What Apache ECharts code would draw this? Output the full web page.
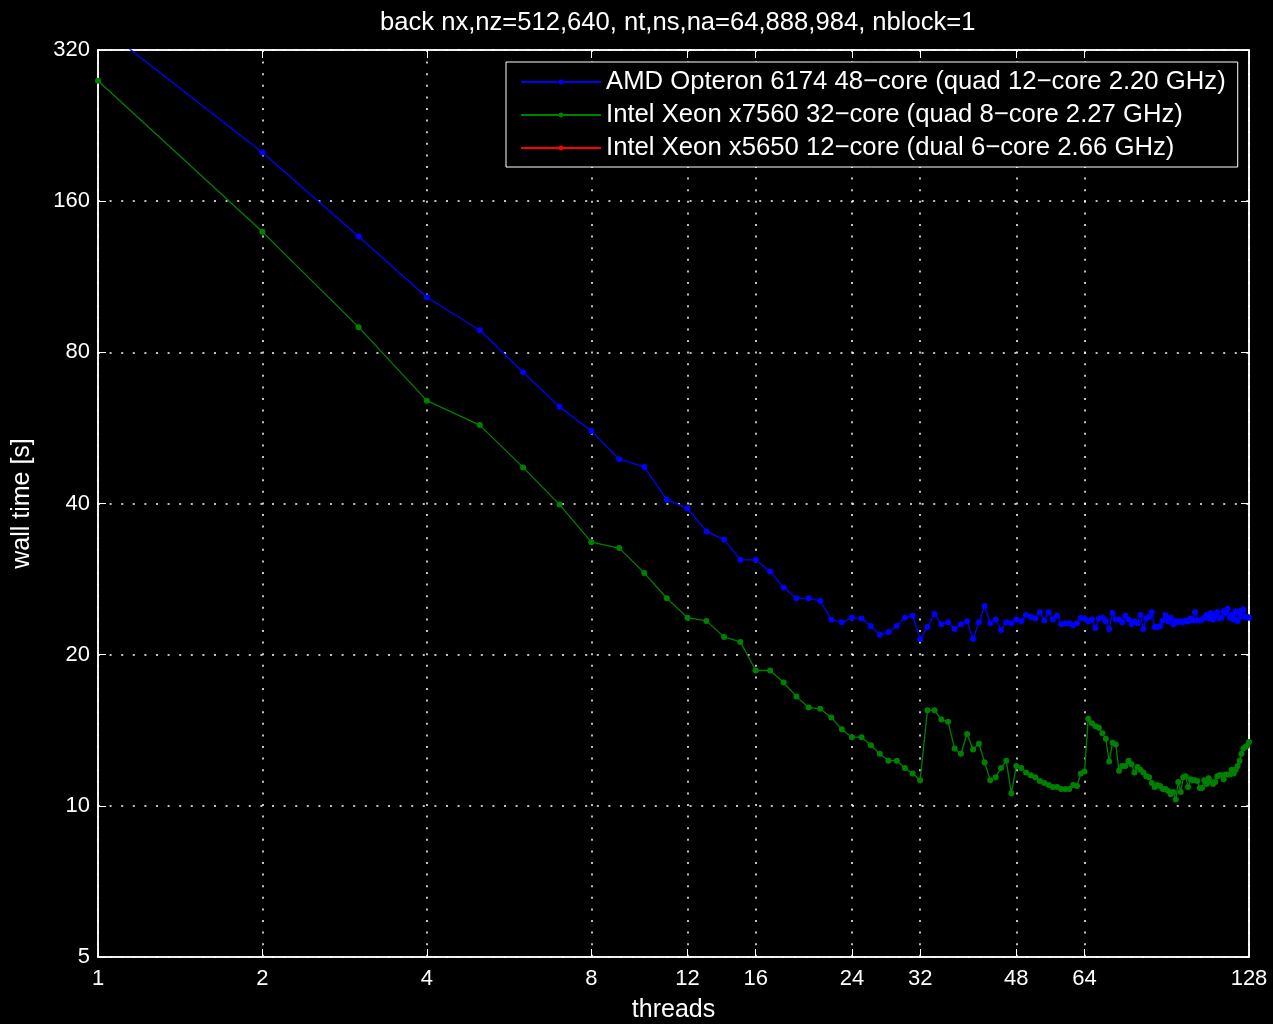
<!DOCTYPE html>
<html>
<head>
<meta charset="utf-8">
<title>back wall time</title>
<script src="https://cdn.jsdelivr.net/npm/echarts@6/dist/echarts.min.js"></script>
<style>
  html, body { margin: 0; padding: 0; background: #000; }
  #chart { width: 1273px; height: 1024px; }
</style>
</head>
<body>
<div id="chart"></div>
<script>
// thread counts 1..128
var threads = [];
for (var t = 1; t <= 128; t++) threads.push(t);

var xTicks = [1, 2, 4, 8, 12, 16, 24, 32, 48, 64, 128];
var yTicks = [5, 10, 20, 40, 80, 160, 320];

var seriesNames = [
    'AMD Opteron 6174 48\u2212core (quad 12\u2212core 2.20 GHz)',
    'Intel Xeon x7560 32\u2212core (quad 8\u2212core 2.27 GHz)',
    'Intel Xeon x5650 12\u2212core (dual 6\u2212core 2.66 GHz)'
];

// wall time [s], one value per thread count
var amdTimes = [
    360, 200, 136, 103, 88.5, 73.0, 62.3, 55.8, 49.0, 47.3,
    40.7, 39.1, 35.2, 33.9, 30.9, 30.9, 29.3, 27.2, 25.9, 25.9,
    25.6, 23.5, 23.2, 23.7, 23.6, 22.8, 21.9, 22.2, 22.8, 23.7,
    23.9, 21.5, 22.7, 24.1, 23.0, 23.2, 22.5, 23.0, 23.3, 21.5,
    23.2, 25.0, 23.1, 23.5, 22.4, 23.2, 23.1, 23.5, 23.3, 24.0,
    23.8, 23.6, 24.3, 23.4, 24.3, 23.5, 23.9, 23.0, 23.1, 23.1,
    22.9, 23.1, 23.7, 23.6, 23.3, 23.5, 22.6, 23.6, 23.7, 23.3,
    22.5, 24.2, 23.5, 23.5, 23.2, 23.9, 23.5, 23.0, 23.3, 23.1,
    24.0, 22.5, 23.6, 23.8, 24.3, 22.7, 22.7, 22.8, 23.4, 24.0,
    23.3, 23.7, 23.0, 23.3, 23.2, 23.3, 23.2, 23.4, 23.3, 23.6,
    23.4, 24.3, 23.4, 23.4, 23.5, 23.7, 24.0, 23.6, 24.2, 23.5,
    24.0, 24.3, 23.6, 23.7, 24.4, 24.2, 24.7, 23.7, 24.0, 23.5,
    24.4, 23.3, 24.4, 23.8, 24.6, 23.8, 23.8, 23.7
];

var x7560Times = [
    278, 139, 89.8, 64.1, 57.3, 47.2, 39.8, 33.5, 32.6, 29.1,
    25.9, 23.7, 23.35, 21.7, 21.2, 18.6, 18.6, 17.6, 16.5, 15.7,
    15.6, 15.0, 14.2, 13.7, 13.7, 13.2, 12.7, 12.3, 12.3, 11.9,
    11.6, 11.25, 15.5, 15.5, 14.85, 14.7, 13.0, 12.7, 13.9, 12.95,
    13.3, 12.2, 11.25, 11.4, 11.9, 12.3, 10.6, 12.0, 11.9, 11.65,
    11.5, 11.4, 11.2, 11.1, 11.0, 10.9, 10.9, 10.8, 10.8, 10.8,
    11.0, 10.95, 11.6, 11.7, 14.9, 14.6, 14.4, 14.3, 13.95, 13.6,
    12.25, 13.35, 13.25, 11.75, 12.0, 12.0, 12.3, 12.1, 11.65, 11.95,
    11.8, 11.65, 11.45, 11.4, 11.1, 10.9, 11.0, 10.95, 10.8, 10.8,
    10.7, 10.55, 10.65, 10.3, 11.15, 10.65, 11.4, 11.45, 10.9, 11.3,
    11.25, 11.25, 11.2, 10.85, 10.85, 11.25, 11.05, 11.35, 11.15, 11.05,
    11.15, 11.45, 11.5, 11.5, 11.3, 11.55, 11.55, 11.55, 11.8, 11.6,
    11.8, 12.0, 12.3, 12.7, 13.0, 13.1, 13.15, 13.4
];

// x5650 run: nothing plotted in the figure
var x5650Times = [];

function pairs(xs, ys) {
    var res = [];
    for (var i = 0; i < ys.length; i++) res.push([xs[i], ys[i]]);
    return res;
}

var font = 'Liberation Sans, Arial, sans-serif';
var myChart = echarts.init(document.getElementById('chart'), null, { renderer: 'canvas' });

var gridDots = { show: true, lineStyle: { color: '#ffffff', width: 1.5, type: [2, 9.6] } };

function makeSeries(name, color, values) {
    return {
        name: name,
        type: 'line',
        data: pairs(threads, values),
        symbol: 'circle',
        symbolSize: 6,
        showAllSymbol: true,
        clip: true,
        lineStyle: { color: color, width: 1.3 },
        itemStyle: { color: color },
        emphasis: { disabled: true },
        animation: false
    };
}

var option = {
    backgroundColor: '#000000',
    title: {
        text: 'back nx,nz=512,640, nt,ns,na=64,888,984, nblock=1',
        left: 375,
        top: 5,
        textStyle: { color: '#ffffff', fontFamily: font, fontSize: 25.6, fontWeight: 'normal' }
    },
    legend: {
        orient: 'vertical',
        left: 506,
        top: 62,
        backgroundColor: '#000000',
        borderColor: '#ffffff',
        borderWidth: 1,
        padding: [7, 12, 6, 14],
        itemGap: 7,
        itemWidth: 80,
        itemHeight: 6,
        textStyle: { color: '#ffffff', fontFamily: font, fontSize: 25.7 },
        data: seriesNames
    },
    grid: {
        left: 98,
        right: 24,
        top: 50,
        bottom: 67,
        outerBoundsMode: 'none',
        show: true,
        borderColor: '#ffffff',
        borderWidth: 1.5,
        backgroundColor: '#000000'
    },
    xAxis: [{
        type: 'log',
        logBase: 2,
        min: 1,
        max: 128,
        name: 'threads',
        nameLocation: 'middle',
        nameGap: 41,
        nameTextStyle: { color: '#ffffff', fontFamily: font, fontSize: 25 },
        axisLine: { lineStyle: { color: '#ffffff', width: 1.5 } },
        axisTick: { inside: true, length: 8, customValues: xTicks, lineStyle: { color: '#ffffff' } },
        axisLabel: { customValues: xTicks, color: '#ffffff', fontFamily: font, fontSize: 22, margin: 11 },
        splitLine: gridDots
    }, {
        type: 'log',
        logBase: 2,
        min: 1,
        max: 128,
        position: 'top',
        axisLine: { lineStyle: { color: '#ffffff', width: 1.5 } },
        axisTick: { inside: true, length: 8, customValues: xTicks, lineStyle: { color: '#ffffff' } },
        axisLabel: { show: false },
        splitLine: { show: false }
    }],
    yAxis: [{
        type: 'log',
        logBase: 2,
        min: 5,
        max: 320,
        name: 'wall time [s]',
        nameLocation: 'middle',
        nameGap: 63,
        nameTextStyle: { color: '#ffffff', fontFamily: font, fontSize: 25 },
        axisLine: { lineStyle: { color: '#ffffff', width: 1.5 } },
        axisTick: { inside: true, length: 8, customValues: yTicks, lineStyle: { color: '#ffffff' } },
        axisLabel: { customValues: yTicks, color: '#ffffff', fontFamily: font, fontSize: 22, margin: 8 },
        splitLine: gridDots
    }, {
        type: 'log',
        logBase: 2,
        min: 5,
        max: 320,
        position: 'right',
        axisLine: { lineStyle: { color: '#ffffff', width: 1.5 } },
        axisTick: { inside: true, length: 8, customValues: yTicks, lineStyle: { color: '#ffffff' } },
        axisLabel: { show: false },
        splitLine: { show: false }
    }],
    series: [
        makeSeries(seriesNames[0], '#0000ff', amdTimes),
        makeSeries(seriesNames[1], '#008000', x7560Times),
        makeSeries(seriesNames[2], '#ff0000', x5650Times)
    ]
};

myChart.setOption(option);
</script>
</body>
</html>
